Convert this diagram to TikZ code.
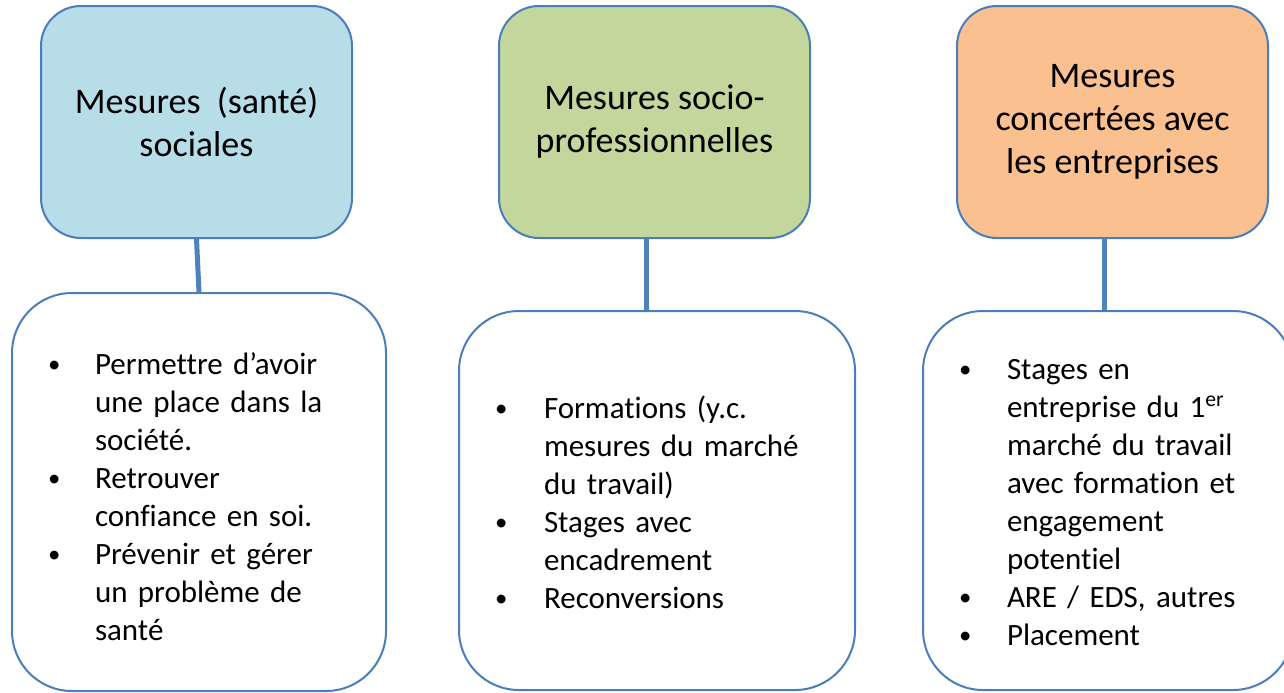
\documentclass[tikz,border=0pt]{standalone}
\usepackage{fontspec}
\setmainfont{Carlito}[Ligatures=NoCommon]
\definecolor{trait}{RGB}{74,126,187}
\definecolor{liaison}{RGB}{79,129,189}
\definecolor{sante}{RGB}{183,221,232}
\definecolor{socio}{RGB}{195,214,155}
\definecolor{entreprise}{RGB}{250,192,144}
\newcommand\puce{\raisebox{0.06em}{\scalebox{0.8}{\textbullet}}}
\tikzset{
  titre/.style={draw=trait, line width=1pt, rounded corners=20pt,
    minimum width=155.5pt, minimum height=116pt, align=center,
    font=\fontsize{18}{21.5}\selectfont},
  liste/.style={draw=trait, line width=1pt, rounded corners=30pt,
    inner xsep=18pt, align=left, font=\fontsize{15.5}{19}\selectfont},
  connecteur/.style={draw=liaison, line width=2.5pt}
}

\begin{document}
\begin{tikzpicture}[x=0.5pt,y=-0.5pt]
          \useasboundingbox (0,0) rectangle (1284,692);
          \node[titre, fill=sante] (titre1) at (196.5,122) {Mesures\ \ (santé)\\sociales};
          \node[titre, fill=socio] (titre2) at (654.5,122) {Mesures socio-\\professionnelles};
          \node[titre, fill=entreprise] (titre3) at (1112.5,122) {Mesures\\concertées avec\\les entreprises};
          \node[liste, minimum height=199pt, text width=151pt] (liste1) at (199,492) {%
            \begin{tabular}{@{}p{23.5pt}@{}l@{}}
            \noalign{\vskip 7.5pt}
            \puce & Permettre d’avoir\\
                  & une place dans la\\
                  & société.\\
            \puce & Retrouver\\
                  & confiance en soi.\\
            \puce & Prévenir et gérer\\
                  & un problème de\\
                  & santé
            \end{tabular}};
          \node[liste, minimum height=189.5pt, text width=162pt] (liste2) at (657,500.5) {%
            \begin{tabular}{@{}p{24.5pt}@{}l@{}}
            \noalign{\vskip 5pt}
            \puce & Formations (y.c.\\
                  & mesures du marché\\
                  & du travail)\\
            \puce & Stages avec\\
                  & encadrement\\
            \puce & Reconversions
            \end{tabular}};
          \node[liste, minimum height=189.5pt, text width=149pt] (liste3) at (1108,500.5) {%
            \begin{tabular}{@{}p{24pt}@{}l@{}}
            \noalign{\vskip 4pt}
            \puce & Stages en\\
                  & entreprise du 1\textsuperscript{er}\\
                  & marché du travail\\
                  & avec formation et\\
                  & engagement\\
                  & potentiel\\
            \puce & ARE / EDS, autres\\
            \puce & Placement
            \end{tabular}};
          \draw[connecteur] (titre1.south) -- (liste1.north);
          \draw[connecteur] ([xshift=-4.25pt]titre2.south) -- ([xshift=-4.25pt]titre2.south |- liste2.north);
          \draw[connecteur] ([xshift=-4.25pt]titre3.south) -- ([xshift=-4.25pt]titre3.south |- liste3.north);
\end{tikzpicture}
\end{document}
